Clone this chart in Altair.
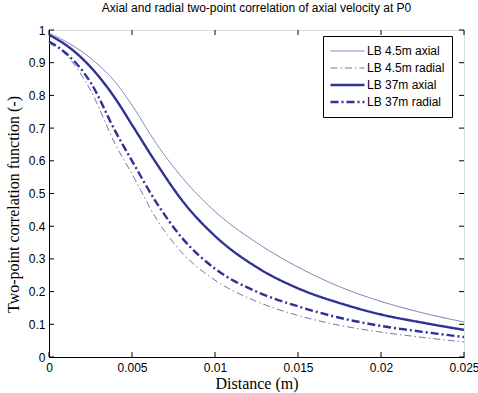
import altair as alt
import pandas as pd

# ---- data ----
distance = [0, 0.001, 0.0025, 0.004, 0.005, 0.0065, 0.008, 0.01, 0.0125, 0.015, 0.0175, 0.02, 0.0225, 0.025]
lb45_axial = [0.99, 0.965, 0.914, 0.84, 0.77, 0.65, 0.55, 0.445, 0.35, 0.275, 0.215, 0.17, 0.135, 0.107]
lb45_radial = [0.96, 0.925, 0.816, 0.65, 0.56, 0.42, 0.32, 0.235, 0.17, 0.127, 0.097, 0.076, 0.06, 0.046]
lb37_axial = [0.985, 0.955, 0.887, 0.79, 0.71, 0.59, 0.48, 0.37, 0.275, 0.21, 0.165, 0.13, 0.105, 0.083]
lb37_radial = [0.965, 0.93, 0.84, 0.69, 0.60, 0.47, 0.365, 0.27, 0.2, 0.155, 0.12, 0.095, 0.077, 0.061]

series_names = ["LB 4.5m axial", "LB 4.5m radial", "LB 37m axial", "LB 37m radial"]
series_widths = [1.0, 1.0, 2.4, 2.4]
x_ticks = [0, 0.005, 0.01, 0.015, 0.02, 0.025]
y_ticks = [0, 0.1, 0.2, 0.3, 0.4, 0.5, 0.6, 0.7, 0.8, 0.9, 1]

rows = []
for name, lw, vals in zip(series_names, series_widths,
                          [lb45_axial, lb45_radial, lb37_axial, lb37_radial]):
    for d, v in zip(distance, vals):
        rows.append({"distance": d, "value": v, "series": name, "lw": lw})
df = pd.DataFrame(rows)

W, H = 415, 327
xscale = alt.Scale(domain=[0, 0.025], nice=False, zero=False)
yscale = alt.Scale(domain=[0, 1], nice=False)

colors = ["#7375b4", "#7375b4", "#2f3295", "#2f3295"]
dashes = [[1, 0], [7, 3, 1.5, 3], [1, 0], [8, 3, 2, 3]]

xaxis = alt.Axis(
    values=x_ticks, format="~g", title="Distance (m)", tickSize=0,
    labelPadding=5, titlePadding=2, grid=False,
    labelFont="Liberation Sans", labelFontSize=12, labelColor="black",
    titleFont="Liberation Serif", titleFontSize=16, titleFontWeight="normal", titleColor="black",
    domainColor="black", labelFlush=False)
yaxis = alt.Axis(
    values=y_ticks, format="~g", title="Two-point correlation function (-)", tickSize=0,
    labelPadding=4, titlePadding=7, grid=False, titleY=174,
    labelFont="Liberation Sans", labelFontSize=12, labelColor="black",
    titleFont="Liberation Serif", titleFontSize=16, titleFontWeight="normal", titleColor="black",
    domainColor="black", labelFlush=False)

legend = alt.Legend(
    title=None, orient="none", legendX=274, legendY=6,
    symbolType="stroke", symbolSize=1156, clipHeight=16,
    labelFont="Liberation Sans", labelFontSize=12, labelColor="black",
    strokeColor="black", fillColor="white", padding=7, rowPadding=1,
    cornerRadius=0, labelOffset=2,
    symbolStrokeWidth=alt.ExprRef(
        "(isValid(datum) && isValid(datum.value) && "
        "(datum.value == 'LB 37m axial' || datum.value == 'LB 37m radial') ? 2.4 : 1)"),
)

lines = alt.Chart(df).mark_line(interpolate="monotone").encode(
    x=alt.X("distance:Q", scale=xscale, axis=xaxis),
    y=alt.Y("value:Q", scale=yscale, axis=yaxis),
    color=alt.Color("series:N", scale=alt.Scale(domain=series_names, range=colors), legend=legend),
    strokeDash=alt.StrokeDash("series:N", scale=alt.Scale(domain=series_names, range=dashes), legend=legend),
    strokeWidth=alt.StrokeWidth("lw:Q", scale=None, legend=None),
    detail="series:N",
)

xt = pd.DataFrame({"distance": x_ticks})
yt = pd.DataFrame({"value": y_ticks})
bottom = alt.Chart(xt).mark_rule(color="black", strokeWidth=1).encode(
    x=alt.X("distance:Q", scale=xscale, axis=xaxis), y=alt.value(H), y2=alt.value(H - 5))
top = alt.Chart(xt).mark_rule(color="black", strokeWidth=1).encode(
    x=alt.X("distance:Q", scale=xscale, axis=xaxis), y=alt.value(0), y2=alt.value(5))
left = alt.Chart(yt).mark_rule(color="black", strokeWidth=1).encode(
    y=alt.Y("value:Q", scale=yscale, axis=yaxis), x=alt.value(0), x2=alt.value(5))
right = alt.Chart(yt).mark_rule(color="black", strokeWidth=1).encode(
    y=alt.Y("value:Q", scale=yscale, axis=yaxis), x=alt.value(W), x2=alt.value(W - 5))

chart = alt.layer(lines, bottom, top, left, right).properties(
    width=W, height=H,
    title=alt.TitleParams("Axial and radial two-point correlation of axial velocity at P0",
                          font="Liberation Sans", fontSize=12, fontWeight="normal",
                          color="black", offset=9, anchor="middle"),
    autosize=alt.AutoSizeParams(type="none"),
    padding={"left": 49, "top": 30, "right": 14, "bottom": 36},
).configure_view(stroke="black", strokeWidth=1).configure(background="white")

chart.save("out.html", embed_options={"renderer": "svg", "actions": False})
